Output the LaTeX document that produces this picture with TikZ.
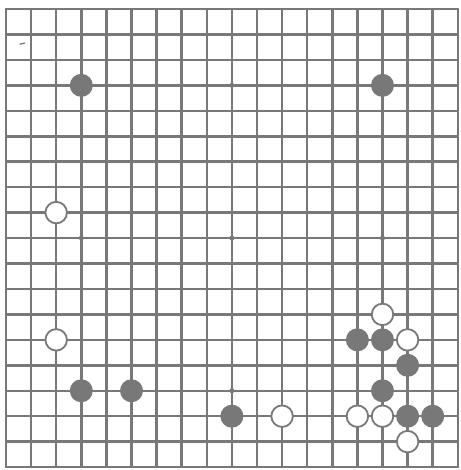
\documentclass[tikz,border=0pt]{standalone}
\definecolor{ink}{RGB}{120,120,120}
\begin{document}
\begin{tikzpicture}[x=25.1pt,y=-25.45pt,
  gridline/.style={draw=ink,line width=2.5pt,line cap=rect},
  blackstone/.style={circle,fill=ink,minimum size=23pt,inner sep=0pt},
  whitestone/.style={circle,fill=white,draw=ink,line width=1.8pt,minimum size=21.5pt,inner sep=0pt},
  hoshi/.style={circle,fill=ink,minimum size=5pt,inner sep=0pt}]
\useasboundingbox (-0.239,-0.354) rectangle (18.127,18.114);
\fill[white] (-0.239,-0.354) rectangle (18.127,18.114);
\foreach \i in {0,...,18} {
  \draw[gridline] (\i,0) -- (\i,18);
  \draw[gridline] (0,\i) -- (18,\i);
}
\foreach \a/\b [count=\k] in {3/3,9/3,15/3,3/9,9/9,15/9,3/15,9/15,15/15}
  \node[hoshi] (h\k) at (\a,\b) {};
\draw[ink,line width=1.3pt,line cap=round] (0.56,1.38) -- (0.74,1.34);
% black stones
\node[blackstone] (b1) at (3,3) {};
\node[blackstone] (b2) at (15,3) {};
\node[blackstone] (b3) at (3,15) {};
\node[blackstone] (b4) at (5,15) {};
\node[blackstone] (b5) at (9,16) {};
\node[blackstone] (b6) at (14,13) {};
\node[blackstone] (b7) at (15,13) {};
\node[blackstone] (b8) at (16,14) {};
\node[blackstone] (b9) at (15,15) {};
\node[blackstone] (b10) at (16,16) {};
\node[blackstone] (b11) at (17,16) {};
% white stones
\node[whitestone] (w1) at (2,8) {};
\node[whitestone] (w2) at (2,13) {};
\node[whitestone] (w3) at (11,16) {};
\node[whitestone] (w4) at (15,12) {};
\node[whitestone] (w5) at (16,13) {};
\node[whitestone] (w6) at (14,16) {};
\node[whitestone] (w7) at (15,16) {};
\node[whitestone] (w8) at (16,17) {};
\end{tikzpicture}
\end{document}
